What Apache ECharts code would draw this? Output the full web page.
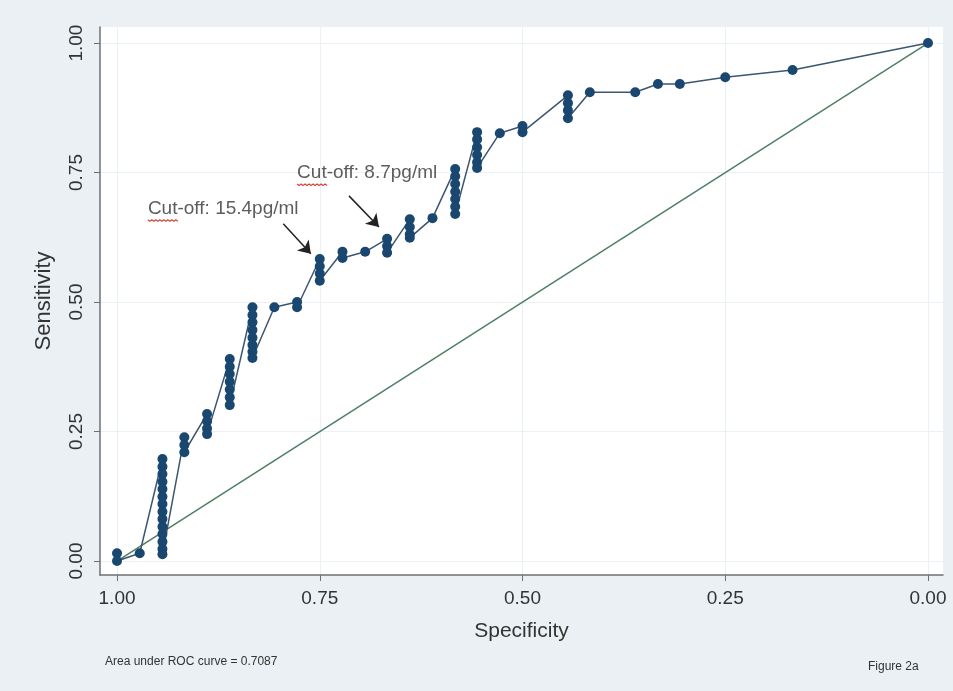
<!DOCTYPE html>
<html><head><meta charset="utf-8">
<script src="https://cdn.jsdelivr.net/npm/echarts@6/dist/echarts.min.js"></script>
<style>html,body{margin:0;padding:0;background:#eaf0f3}#c{width:953px;height:691px}</style>
</head><body><div id="c"></div>
<script>
// ROC points (specificity, sensitivity), in plotting order
const specificity = [
  1.000, 1.000,
  0.972,
  0.944, 0.944, 0.944, 0.944, 0.944, 0.944, 0.944, 0.944, 0.944, 0.944, 0.944, 0.944, 0.944, 0.944,
  0.917, 0.917, 0.917,
  0.889, 0.889, 0.889, 0.889,
  0.861, 0.861, 0.861, 0.861, 0.861, 0.861, 0.861,
  0.833, 0.833, 0.833, 0.833, 0.833, 0.833, 0.833, 0.833,
  0.806,
  0.778, 0.778,
  0.750, 0.750, 0.750, 0.750,
  0.722, 0.722,
  0.694,
  0.667, 0.667, 0.667,
  0.639, 0.639, 0.639, 0.639,
  0.611,
  0.583, 0.583, 0.583, 0.583, 0.583, 0.583, 0.583,
  0.556, 0.556, 0.556, 0.556, 0.556, 0.556,
  0.528,
  0.500, 0.500,
  0.444, 0.444, 0.444, 0.444,
  0.417,
  0.361,
  0.333,
  0.306,
  0.250,
  0.167,
  0.000
];
const sensitivity = [
  0.015, 0.000,
  0.015,
  0.197, 0.182, 0.168, 0.153, 0.139, 0.124, 0.110, 0.095, 0.081, 0.066, 0.052, 0.037, 0.023, 0.013,
  0.239, 0.224, 0.210,
  0.284, 0.270, 0.256, 0.245,
  0.390, 0.375, 0.361, 0.346, 0.331, 0.316, 0.301,
  0.490, 0.475, 0.461, 0.446, 0.431, 0.417, 0.404, 0.392,
  0.490,
  0.500, 0.490,
  0.583, 0.569, 0.555, 0.541,
  0.597, 0.585,
  0.597,
  0.622, 0.608, 0.595,
  0.660, 0.645, 0.631, 0.624,
  0.662,
  0.757, 0.743, 0.728, 0.713, 0.699, 0.684, 0.670,
  0.828, 0.814, 0.799, 0.784, 0.770, 0.759,
  0.826,
  0.840, 0.828,
  0.899, 0.884, 0.870, 0.855,
  0.905,
  0.905,
  0.921,
  0.921,
  0.934,
  0.948,
  1.000
];
const referenceSpec = [1, 0];
const referenceSens = [0, 1];
const tickValues = [0, 0.25, 0.5, 0.75, 1];
const xTitle = 'Specificity';
const yTitle = 'Sensitivity';
const aucText = 'Area under ROC curve = 0.7087';
const figureLabel = 'Figure 2a';
const cutoffLabels = ['Cut-off: 15.4pg/ml', 'Cut-off: 8.7pg/ml'];
const cutoffLabelSpec = [0.962, 0.778];
const cutoffLabelSens = [0.680, 0.749];
const arrowFromSpec = [0.795, 0.714];
const arrowFromSens = [0.651, 0.705];
const arrowToSpec = [0.761, 0.677];
const arrowToSens = [0.593, 0.645];

const rocData = specificity.map((s, i) => [s, sensitivity[i]]);
const refData = referenceSpec.map((s, i) => [s, referenceSens[i]]);
const labelData = cutoffLabelSpec.map((s, i) => [s, cutoffLabelSens[i]]);
const arrowData = arrowFromSpec.map((s, i) => [
  { coord: [s, arrowFromSens[i]] },
  { coord: [arrowToSpec[i], arrowToSens[i]] }
]);
const gridLines = tickValues.map(v => ({ xAxis: v })).concat(tickValues.map(v => ({ yAxis: v })));

const chart = echarts.init(document.getElementById('c'), null, { renderer: 'canvas' });
const font = 'Liberation Sans, Arial, sans-serif';
const axisCommon = {
  type: 'value',
  axisLine: { show: true, onZero: false, lineStyle: { color: '#707070', width: 1.5 } },
  axisTick: { show: true, customValues: tickValues, length: 6, lineStyle: { color: '#707070', width: 1 } },
  splitLine: { show: false },
  nameLocation: 'middle',
  nameTextStyle: { fontSize: 21, color: '#333', fontFamily: font }
};
chart.setOption({
  animation: false,
  backgroundColor: '#eaf0f3',
  grid: { left: 100, right: 10, top: 27, bottom: 116, backgroundColor: '#ffffff', show: true, borderWidth: 0 },
  xAxis: Object.assign({}, axisCommon, {
    inverse: true, min: -0.0185, max: 1.021,
    name: xTitle, nameGap: 46,
    axisLabel: { customValues: tickValues, formatter: v => v.toFixed(2), fontSize: 19, color: '#333', margin: 14, fontFamily: font }
  }),
  yAxis: Object.assign({}, axisCommon, {
    min: -0.027, max: 1.031,
    name: yTitle, nameGap: 45,
    nameTextStyle: { fontSize: 22, color: '#333', fontFamily: font },
    axisLabel: { customValues: tickValues, formatter: v => v.toFixed(2), fontSize: 19, color: '#333', margin: 14, rotate: 90, fontFamily: font }
  }),
  series: [
    {
      type: 'line', data: [], silent: true, z: 0,
      markLine: {
        silent: true, symbol: 'none', label: { show: false }, z: 0,
        lineStyle: { color: '#ebf1f4', width: 1.2, type: 'solid' },
        data: gridLines
      }
    },
    {
      type: 'line', data: refData, showSymbol: false, silent: true, z: 1,
      lineStyle: { color: '#4e7f63', width: 1.5 }
    },
    {
      type: 'line', data: rocData, symbol: 'circle', symbolSize: 10, showAllSymbol: true, z: 2,
      itemStyle: { color: '#1a476f' },
      lineStyle: { color: '#3b5670', width: 1.5 }
    },
    {
      type: 'scatter', data: labelData, symbolSize: 0.1, z: 3, silent: true,
      itemStyle: { color: 'rgba(0,0,0,0)' },
      label: {
        show: true, position: 'right', distance: 0, fontSize: 19, color: '#333', fontFamily: font,
        formatter: p => cutoffLabels[p.dataIndex]
      },
      markLine: {
        silent: true, symbol: ['none', 'arrow'], symbolSize: 12, label: { show: false },
        itemStyle: { color: '#222' },
        lineStyle: { color: '#222', width: 1.5, type: 'solid' },
        data: arrowData
      }
    }
  ]
});

const graphics = [
  { type: 'text', left: 105, top: 656, style: { text: aucText, fontSize: 12, fill: '#333', fontFamily: font } },
  { type: 'text', left: 868, top: 661, style: { text: figureLabel, fontSize: 12, fill: '#333', fontFamily: font } }
];
labelData.forEach(pt => {
  const p = chart.convertToPixel({ gridIndex: 0 }, pt);
  const pts = [];
  for (let dx = 0; dx <= 30; dx += 2) pts.push([p[0] + dx, p[1] + 11 + (dx % 4 === 0 ? 0 : 1.5)]);
  graphics.push({ type: 'polyline', shape: { points: pts }, style: { stroke: '#d9453c', lineWidth: 1.2, fill: null }, z: 10 });
});
chart.setOption({ graphic: graphics });
</script>
</body></html>
